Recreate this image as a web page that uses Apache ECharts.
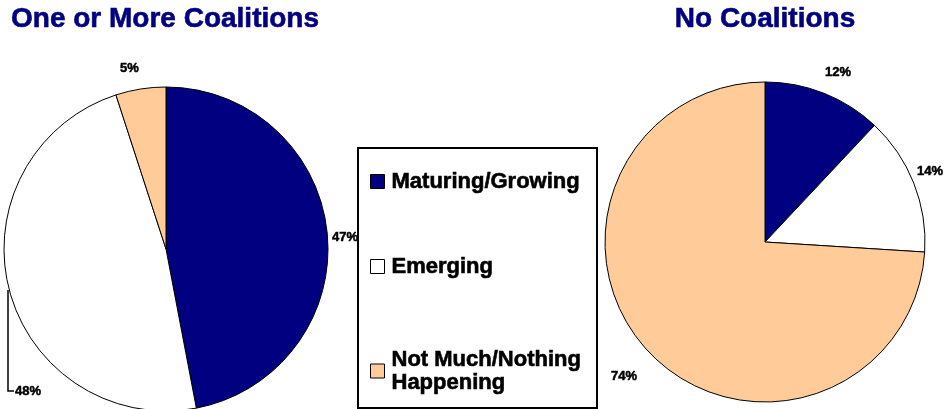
<!DOCTYPE html>
<html><head><meta charset="utf-8">
<script src="https://cdn.jsdelivr.net/npm/echarts@6/dist/echarts.min.js"></script>
<style>html,body{margin:0;padding:0;background:#fff}#c{width:952px;height:409px}</style>
</head><body><div id="c"></div>
<script>
var categories = ['Maturing/Growing', 'Emerging', 'Not Much/Nothing\nHappening'];
var oneOrMoreValues = [47, 48, 5];
var noCoalitionValues = [12, 14, 74];
var titles = ['One or More Coalitions', 'No Coalitions'];
var colors = ['#000080', '#ffffff', '#ffcc99'];

var chart = echarts.init(document.getElementById('c'));
var FONT = 'Liberation Sans, Arial, sans-serif';
var labelFont = {fontFamily: FONT, fontWeight: 'bold', fontSize: 13, color: '#000', textBorderColor: '#000', textBorderWidth: 0.5};

// label positions for each pie (layout only)
var leftLabelPos = [
  {x: 332, y: 237},
  {x: 15, y: 391, line: [[8, 290], [8, 391], [14, 391]]},
  {x: 120, y: 68}
];
var rightLabelPos = [
  {x: 825, y: 72},
  {x: 917, y: 171},
  {x: 611, y: 376}
];
function mkLayout(pos) {
  return function (p) {
    var q = pos[p.dataIndex];
    var r = {x: q.x, y: q.y, align: 'left', verticalAlign: 'middle'};
    if (q.line) r.labelLinePoints = q.line;
    return r;
  };
}
function mkData(vals, lineIdx) {
  return categories.map(function (c, i) {
    var d = {name: c, value: vals[i], itemStyle: {color: colors[i]}};
    if (i === lineIdx) d.labelLine = {show: true, lineStyle: {color: '#000', width: 1.5}};
    return d;
  });
}
var pieBase = {
  type: 'pie',
  startAngle: 90,
  clockwise: true,
  avoidLabelOverlap: false,
  silent: true,
  itemStyle: {borderColor: '#000', borderWidth: 1},
  label: Object.assign({show: true, formatter: '{c}%', position: 'outside'}, labelFont),
  labelLine: {show: false},
  emphasis: {disabled: true}
};
var legendBase = {
  orient: 'vertical',
  left: 370,
  padding: 0,
  itemWidth: 14,
  itemHeight: 14,
  icon: 'rect',
  selectedMode: false,
  itemStyle: {borderColor: '#000', borderWidth: 1},
  textStyle: {fontFamily: FONT, fontWeight: 'bold', fontSize: 22, color: '#000', lineHeight: 23, padding: [0, 0, 0, 2], textBorderColor: '#000', textBorderWidth: 0.6}
};
var titleStyle = {fontFamily: FONT, fontWeight: 'bold', fontSize: 28, color: '#000080', textBorderColor: '#000080', textBorderWidth: 0.6};

chart.setOption({
  animation: false,
  title: [
    {text: titles[0], left: 11, top: 5, padding: 0, textStyle: titleStyle},
    {text: titles[1], left: 765, top: 5, padding: 0, textAlign: 'center', textStyle: titleStyle}
  ],
  legend: [
    Object.assign({}, legendBase, {top: 170, height: 200, itemGap: 62, data: categories.slice(0, 2)}),
    Object.assign({}, legendBase, {top: 348, height: 60, itemGap: 0, data: categories.slice(2)})
  ],
  graphic: [
    {type: 'rect', shape: {x: 358, y: 148, width: 239, height: 260}, style: {fill: 'none', stroke: '#000', lineWidth: 2}, z: 10}
  ],
  series: [
    Object.assign({}, pieBase, {
      center: [166, 249], radius: 162,
      data: mkData(oneOrMoreValues, 1),
      labelLayout: mkLayout(leftLabelPos)
    }),
    Object.assign({}, pieBase, {
      center: [765, 242], radius: 160,
      data: mkData(noCoalitionValues, -1),
      labelLayout: mkLayout(rightLabelPos)
    })
  ]
});
</script></body></html>
